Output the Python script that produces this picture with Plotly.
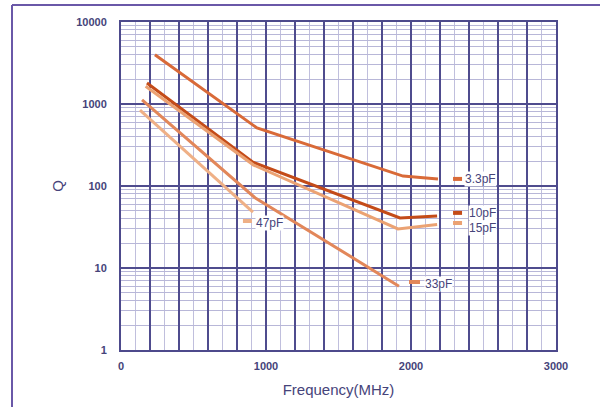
import math
import plotly.graph_objects as go

# Data
freq_3p3 = [234, 938, 1945, 2186]
q_3p3 = [3980, 510, 132, 122]
freq_10 = [179, 910, 1924, 2180]
q_10 = [1800, 195, 40.7, 43]
freq_15 = [170, 915, 1910, 2180]
q_15 = [1650, 180, 30, 34]
freq_33 = [145, 924, 1917]
q_33 = [1120, 72, 6.0]
freq_47 = [131, 910]
q_47 = [840, 48]

series_names = ["3.3pF", "10pF", "15pF", "33pF", "47pF"]
series_colors = ["#d96a38", "#c44b18", "#eba273", "#e2875a", "#efb086"]
series_freqs = [freq_3p3, freq_10, freq_15, freq_33, freq_47]
series_qs = [q_3p3, q_10, q_15, q_33, q_47]

# label placement (dash start/end x, dash y, text x, text y)
label_dash_x0 = [2290, 2290, 2290, 1986, 841]
label_dash_x1 = [2352, 2352, 2352, 2062, 903]
label_dash_y = [122, 47, 35.4, 6.75, 37.4]
label_text_x = [2366, 2393, 2393, 2090, 924]
label_text_y = [122, 47, 31, 6.4, 35]

x_ticks = [0, 1000, 2000, 3000]
y_ticks = [1, 10, 100, 1000, 10000]
x_grid = list(range(0, 3001, 200))

txt_color = "#46447a"
axis_color = "#4d4a8c"
font_family = "Liberation Sans, Arial"

fig = go.Figure()
for name, col, fx, qy in zip(series_names, series_colors, series_freqs, series_qs):
    fig.add_trace(go.Scatter(x=fx, y=qy, mode="lines", name=name,
                             line=dict(color=col, width=3), showlegend=False))

for i, name in enumerate(series_names):
    fig.add_trace(go.Scatter(x=[label_dash_x0[i], label_dash_x1[i]],
                             y=[label_dash_y[i], label_dash_y[i]], mode="lines",
                             line=dict(color=series_colors[i], width=4), showlegend=False,
                             hoverinfo="skip"))
    fig.add_annotation(x=label_text_x[i], y=math.log10(label_text_y[i]),
                       text=name, showarrow=False, xanchor="left", yanchor="middle",
                       bgcolor="white", borderpad=0,
                       font=dict(family=font_family, size=12, color=txt_color))

fig.update_xaxes(range=[0, 3000], tickvals=x_grid,
                 ticktext=[str(v) if v in x_ticks else "" for v in x_grid],
                 showgrid=True, gridcolor="#4f4c8e", gridwidth=1.5,
                 minor=dict(tickvals=[v + 100 for v in x_grid[:-1]], showgrid=True,
                            gridcolor="#c0bfdd", gridwidth=1),
                 showline=True, linecolor=axis_color, linewidth=2, mirror=True,
                 zeroline=False, ticks="", ticklabelstandoff=5,
                 tickfont=dict(family=font_family, size=11, color=txt_color, weight="bold"),
                 title=dict(text="Frequency(MHz)", standoff=13,
                            font=dict(family=font_family, size=15, color=txt_color)))
fig.update_yaxes(type="log", range=[0, 4], tickvals=y_ticks,
                 ticktext=[str(v) for v in y_ticks],
                 showgrid=True, gridcolor="#4f4c8e", gridwidth=2,
                 minor=dict(showgrid=True, gridcolor="#b8b7d8", gridwidth=1,
                            tickvals=[m * 10 ** d for d in range(4) for m in range(2, 10)]),
                 showline=True, linecolor=axis_color, linewidth=2, mirror=True,
                 zeroline=False, ticks="", ticklabelstandoff=10,
                 tickfont=dict(family=font_family, size=11, color=txt_color, weight="bold"),
                 title=dict(text="Q", standoff=9,
                            font=dict(family=font_family, size=15, color=txt_color)))

# outer frame lines (left and top)
fig.add_shape(type="line", xref="paper", yref="paper", x0=-109/435, x1=479/435,
              y0=(328 + 17) / 328, y1=(328 + 17) / 328,
              line=dict(color="#6a58a8", width=2))
fig.add_shape(type="line", xref="paper", yref="paper", x0=-109/435, x1=-109/435,
              y0=-57/328, y1=(328 + 17) / 328, line=dict(color="#6a58a8", width=2))

fig.update_layout(width=600, height=407, margin=dict(l=121, r=44, t=22, b=57),
                  plot_bgcolor="white", paper_bgcolor="white")
fig.write_html("out.html", post_script="document.body.style.margin='0';",
               config={"displayModeBar": False})
